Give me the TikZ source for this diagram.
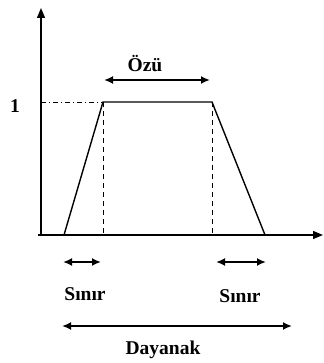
\documentclass[tikz,border=0pt]{standalone}
\usepackage{fontspec}
\setmainfont{Liberation Serif}
\usetikzlibrary{arrows.meta}

\begin{document}
\begin{tikzpicture}[x=1pt, y=-1pt,
    eksen/.style={line width=1.3pt, -{Triangle[length=10pt, width=8pt]}},
    olcu/.style={line width=1.8pt, {Latex[length=9pt, width=8pt]}-{Latex[length=9pt, width=8pt]}},
    kenar/.style={line width=1.4pt},
    etiket/.style={font=\fontsize{19.5}{22}\selectfont\bfseries, inner sep=0pt}]
    \useasboundingbox (0,0) rectangle (323,363);
    % eksenler
    \coordinate (o) at (41,235);
    \coordinate (ytepe) at (41,8);
    \coordinate (xuc) at (323,235);
    \draw[eksen] (o) -- (ytepe);
    \draw[eksen] (38,235) -- (xuc);
    % yamuk
    \coordinate (a) at (64,235);
    \coordinate (b) at (103,102);
    \coordinate (c) at (212,102);
    \coordinate (d) at (265,235);
    \draw[kenar] (a) -- (b) -- (c) -- (d);
    \coordinate (y1) at (41,102);
    \draw[line width=0.9pt, dash pattern=on 5pt off 3pt on 1pt off 3pt] (y1) -- (b);
    \draw[line width=0.9pt, dash pattern=on 5pt off 4pt] (b) -- (b |- o);
    \draw[line width=0.9pt, dash pattern=on 5pt off 4pt] (c) -- (c |- o);
    \node[etiket] (bir) at (15,106) {1};
    % Özü
    \node[etiket] (ozu) at (145,64) {Özü};
    \coordinate (oz1) at (104,80);
    \coordinate (oz2) at (210,80);
    \draw[olcu] (oz1) -- (oz2);
    % sınırlar
    \coordinate (s1) at (63,262);
    \coordinate (s2) at (101,262);
    \coordinate (s3) at (216,262);
    \coordinate (s4) at (266,262);
    \draw[olcu] (s1) -- (s2);
    \draw[olcu] (s3) -- (s4);
    \node[etiket] (sinir1) at (85,294) {Sınır};
    \node[etiket] (sinir2) at (240,296) {Sınır};
    % dayanak
    \coordinate (d1) at (62,326);
    \coordinate (d2) at (292,326);
    \draw[olcu] (d1) -- (d2);
    \node[etiket] (dayanak) at (163,350) {Dayanak};
\end{tikzpicture}
\end{document}
